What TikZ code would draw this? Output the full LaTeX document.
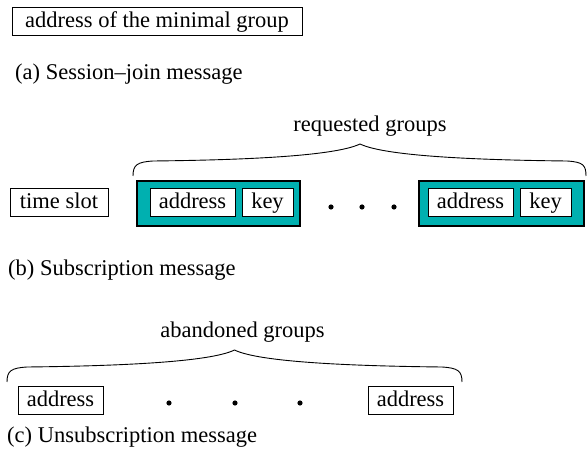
\documentclass[tikz,border=0pt]{standalone}
\usepackage{fontspec}
\setmainfont{Liberation Serif}
\definecolor{tealfill}{RGB}{0,176,176}
\begin{document}
\begin{tikzpicture}[x=1pt,y=-1pt,
  every node/.style={font=\fontsize{22.5}{27}\selectfont},
  field/.style={draw=black,fill=white,line width=1pt,minimum height=28pt,inner xsep=0pt,inner ysep=3.5pt,text height=16pt,text depth=5pt},
  group/.style={draw=black,fill=tealfill,line width=1.2pt,minimum height=45pt,inner sep=0pt},
  label/.style={inner sep=0pt,anchor=base},
  caption/.style={inner sep=0pt,anchor=base west},
  dot/.style={fill=black},
  brace/.style={line width=0.9pt}]
\useasboundingbox (0,0) rectangle (587,470);
% (a)
\node[field,minimum width=290pt] (minaddr) at (157,22) {address of the minimal group};
\node[caption] (capa) at (15,80) {(a) Session--join message};
% (b)
\node[label] (req) at (370,132) {requested groups};
\draw[brace] (133,176) .. controls (133,165) and (137,162) .. (153,161)
  .. controls (246,160) and (335,156) .. (360,144)
  .. controls (385,156) and (474,160) .. (567,161)
  .. controls (583,162) and (586,165) .. (586,176);
\node[field,minimum width=98pt] (slot) at (59,203) {time slot};
\node[group,minimum width=163pt] (g1) at (218.5,203.5) {};
\node[field,minimum width=85pt] (a1) at (192.5,203) {address};
\node[field,minimum width=51pt] (k1) at (267.5,203) {key};
\node[group,minimum width=165pt] (g2) at (501.5,203.5) {};
\node[field,minimum width=85pt] (a2) at (470.5,203) {address};
\node[field,minimum width=51pt] (k2) at (545.5,203) {key};
\fill[dot] (331,207) circle (2.6pt) (362,207) circle (2.6pt) (394,207) circle (2.6pt);
\node[caption] (capb) at (8,276) {(b) Subscription message};
% (c)
\node[label] (aband) at (242.5,338) {abandoned groups};
\draw[brace] (7,382) .. controls (7,371) and (11,368) .. (27,367)
  .. controls (120,366) and (210,362) .. (234.5,350)
  .. controls (259,362) and (349,366) .. (442,367)
  .. controls (458,368) and (462,371) .. (462,382);
\node[field,minimum width=85pt] (c1) at (60.5,401) {address};
\node[field,minimum width=85pt] (c2) at (410.5,401) {address};
\fill[dot] (169,403) circle (2.6pt) (235,403) circle (2.6pt) (300,403) circle (2.6pt);
\node[caption] (capc) at (7,443) {(c) Unsubscription message};
\end{tikzpicture}
\end{document}
